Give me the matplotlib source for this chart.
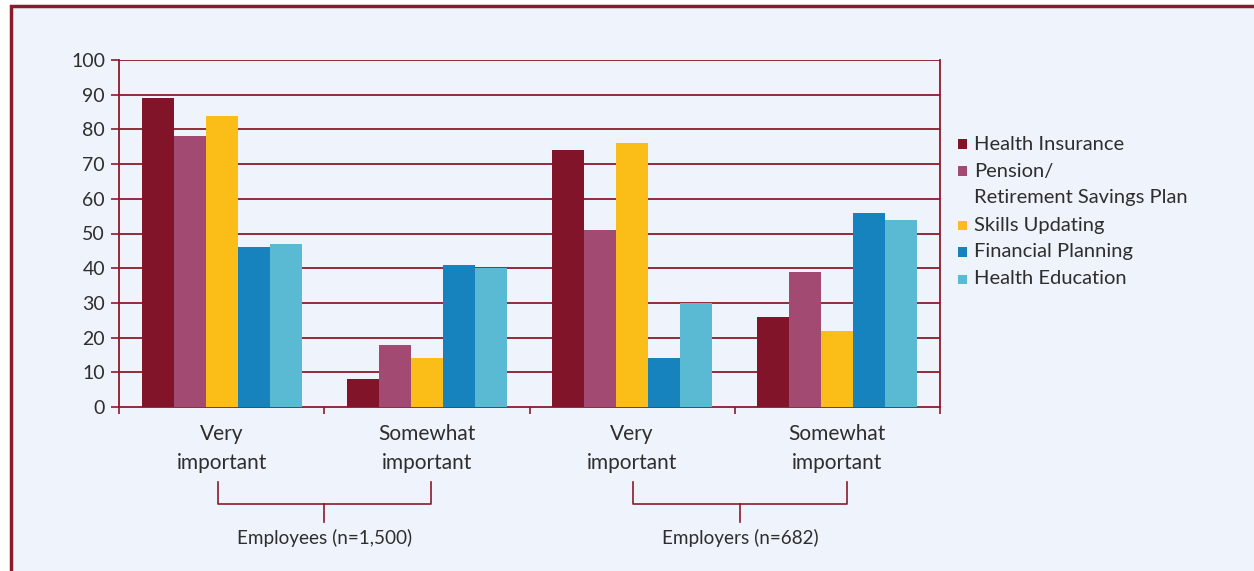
import numpy as np
import matplotlib
matplotlib.use("Agg")
import matplotlib.pyplot as plt
from matplotlib.patches import Rectangle
from matplotlib.lines import Line2D
import matplotlib.transforms as mtransforms

categories = ["Very\nimportant", "Somewhat\nimportant", "Very\nimportant", "Somewhat\nimportant"]
groups = ["Employees (n=1,500)", "Employers (n=682)"]
series_names = ["Health Insurance", "Pension/\nRetirement Savings Plan", "Skills Updating",
                "Financial Planning", "Health Education"]
health_insurance = [89, 8, 74, 26]
pension = [78, 18, 51, 39]
skills_updating = [84, 14, 76, 22]
financial_planning = [46, 41, 14, 56]
health_education = [47, 40, 30, 54]
colors = ["#82142A", "#A34A72", "#FBBE19", "#1683BE", "#5BBAD3"]

red = "#8B1A2B"
bg = "#EFF3FB"
txt = "#2E2E2E"

plt.rcParams['font.family'] = ['Lato', 'DejaVu Sans']

fig = plt.figure(figsize=(12.54, 5.71), dpi=100, facecolor="white")
# panel background with the dark red frame
fig.patches.append(Rectangle((11 / 1254, -0.05), 1.1, (571 - 6) / 571 + 0.05,
                             transform=fig.transFigure, facecolor=bg, edgecolor=red,
                             linewidth=2.5, zorder=-5))

ax = fig.add_axes([119 / 1254, (571 - 407) / 571, (940 - 119) / 1254, 347 / 571])
ax.set_facecolor("none")

values = [health_insurance, pension, skills_updating, financial_planning, health_education]
width = 0.156
x = np.arange(len(categories)) + 0.5
for i, (vals, c) in enumerate(zip(values, colors)):
    ax.bar(x + (i - 2) * width, vals, width=width, color=c, zorder=3, linewidth=0)

ax.set_xlim(0, 4)
ax.set_ylim(0, 100)
ax.set_yticks(range(0, 101, 10))
for yv in range(10, 101, 10):
    ax.axhline(yv, color=red, lw=1.3, zorder=1)
ax.set_xticks(range(0, 5))
ax.set_xticklabels([])
ax.tick_params(axis="y", colors=red, length=6, width=1.2, labelcolor=txt, labelsize=14, pad=4)
ax.tick_params(axis="x", colors=red, length=5, width=1.2, direction="out")
for s in ["left", "right", "bottom"]:
    ax.spines[s].set_color(red)
    ax.spines[s].set_linewidth(1.3)
ax.spines["top"].set_visible(False)

# category labels and group brackets
trans = mtransforms.blended_transform_factory(ax.transData, ax.transAxes)
for xc, lab in zip(x, categories):
    ax.text(xc, -0.12, lab, transform=trans, ha="center", va="center",
            fontsize=15, color=txt, linespacing=1.55)
for g, name in enumerate(groups):
    x0, x1 = x[2 * g] - 0.02 + 0.025 * g, x[2 * g + 1] + 0.02 + 0.025 * g
    xm = (x0 + x1) / 2
    ax.add_line(Line2D([x0, x0, x1, x1], [-0.216, -0.28, -0.28, -0.216], transform=trans,
                       color=red, lw=1.2, clip_on=False))
    ax.add_line(Line2D([xm, xm], [-0.28, -0.331], transform=trans,
                       color=red, lw=1.2, clip_on=False))
    ax.text(xm, -0.377, name, transform=trans, ha="center", va="center",
            fontsize=13.6, color=txt)

# legend drawn by hand so the marker sits on the first line
row = 0
for name, c in zip(series_names, colors):
    ypix = 144 + 27 * row
    fig.patches.append(Rectangle((958 / 1254, (571 - ypix - 4.5) / 571), 9 / 1254, 9 / 571,
                                 transform=fig.transFigure, facecolor=c, edgecolor="none"))
    for k, line in enumerate(name.split("\n")):
        fig.text(974 / 1254, (571 - ypix - 27 * k) / 571, line, ha="left", va="center",
                 fontsize=14.5, color=txt)
    row += name.count("\n") + 1

fig.savefig("out.png", dpi=100, facecolor=fig.get_facecolor())
